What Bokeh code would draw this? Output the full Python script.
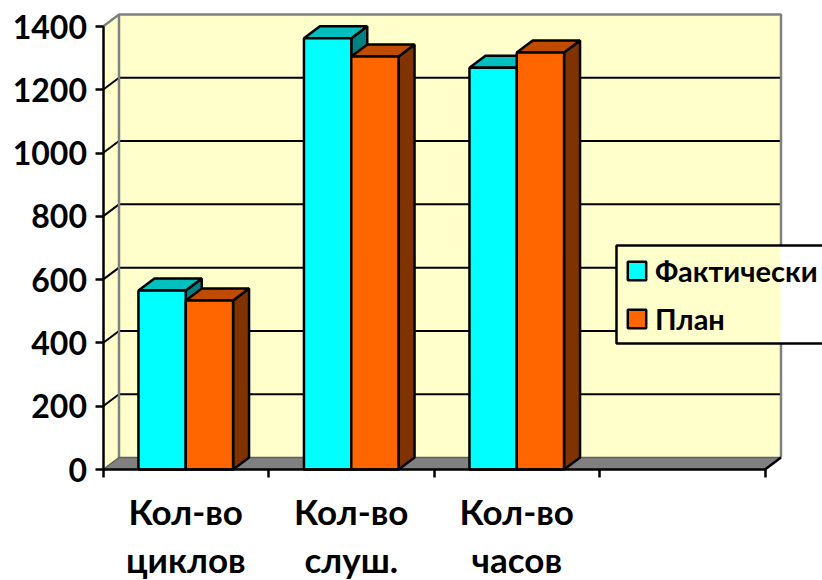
from bokeh.plotting import figure
from bokeh.embed import file_html
from bokeh.resources import INLINE
from bokeh.models import Range1d, FixedTicker, Legend, LegendItem, BoxAnnotation
from bokeh.core.properties import value

categories = ["Кол-во\nциклов", "Кол-во\nслуш.", "Кол-во\nчасов"]
positions = [0.5, 1.5, 2.5]
fact = [566, 1363, 1270]
plan = [534, 1305, 1318]
y_ticks = [0, 200, 400, 600, 800, 1000, 1200, 1400]
x_ticks = [0, 1, 2, 3, 4]
series_names = ["Фактически", "План"]

FONT = "Lato"
W, H = 822, 580
PX_X = 165.5
PX_Y = 443 / 1400
DX = 16 / PX_X
DY = 12 / PX_Y
BW = 47.3 / PX_X
YMAX = 1400
XMAX = 4

p = figure(width=W, height=H, output_backend="svg", toolbar_location=None,
           x_range=Range1d(-102.5 / PX_X, (W - 102.5) / PX_X),
           y_range=Range1d((469 - H) / PX_Y, 469 / PX_Y),
           min_border=0, outline_line_color=None)
p.grid.visible = False

# walls
p.patch([0, DX, DX, 0], [0, DY, YMAX + DY, YMAX], fill_color="#FFFFCC", line_color=None)
p.quad(left=DX, right=XMAX + DX, bottom=DY, top=YMAX + DY, fill_color="#FFFFCC", line_color=None)
# floor
p.patch([0, XMAX, XMAX + DX, DX], [0, 0, DY, DY], fill_color="#808080", line_color=None)
# grid
for t in y_ticks[1:-1]:
    p.line([0, DX, XMAX + DX], [t, t + DY, t + DY], line_color="black", line_width=2)
# wall edges
p.line([0, DX, XMAX + DX, XMAX + DX], [YMAX, YMAX + DY, YMAX + DY, DY], line_color="#808080", line_width=2.5)
p.line([DX, DX], [DY, YMAX + DY], line_color="#808080", line_width=2.5)
p.line([0, DX, XMAX + DX], [0, DY, DY], line_color="#606060", line_width=1.5)
p.line([XMAX, XMAX + DX], [0, DY], line_color="black", line_width=2.5)


def bars(vals, shift, front, top, side):
    left = [c + shift for c in positions]
    right = [l + BW for l in left]
    p.patches([[r, r + DX, r + DX, r] for r in right],
              [[0, DY, v + DY, v] for v in vals],
              fill_color=side, line_color="black", line_width=2.5)
    p.patches([[l, l + DX, r + DX, r] for l, r in zip(left, right)],
              [[v, v + DY, v + DY, v] for v in vals],
              fill_color=top, line_color="black", line_width=2.5)
    return p.quad(left=left, right=right, bottom=0, top=vals,
                  fill_color=front, line_color="black", line_width=2.5)


r1 = bars(fact, -BW, "#00FFFF", "#00BFBF", "#008080")
r2 = bars(plan, 0, "#FF6600", "#BF4C00", "#803300")

# axes
ax = p.yaxis[0]
ax.fixed_location = 0
ax.ticker = FixedTicker(ticks=y_ticks)
ax.bounds = (0, YMAX)
ax.axis_line_color = "black"
ax.axis_line_width = 2.5
ax.major_tick_line_width = 2.5
ax.major_tick_in = 0
ax.major_tick_out = 8
ax.minor_tick_line_color = None
ax.major_label_standoff = 8
ax.major_label_text_font = FONT
ax.major_label_text_font_style = "bold"
ax.major_label_text_font_size = "32px"
ax.major_label_text_color = "black"

bx = p.xaxis[0]
bx.fixed_location = 0
bx.ticker = FixedTicker(ticks=x_ticks)
bx.bounds = (0, XMAX)
bx.axis_line_color = "black"
bx.axis_line_width = 2.5
bx.major_tick_line_width = 2.5
bx.major_tick_in = 0
bx.major_tick_out = 8
bx.minor_tick_line_color = None
bx.major_label_overrides = {t: "" for t in x_ticks}

# category labels
for off, idx in ((41, 0), (89, 1)):
    p.text(x=positions, y=[0, 0, 0], text=[c.split("\n")[idx] for c in categories],
           text_font=value(FONT), text_font_style="bold", text_font_size="35px",
           text_align="center", text_baseline="alphabetic", y_offset=off, text_color="black")

# legend panel (screen y counts up from the bottom of the figure)
box = dict(top=H - 245, bottom=H - 343, left=616, top_units="screen", bottom_units="screen",
           left_units="screen", right_units="screen")
p.add_layout(BoxAnnotation(right=W + 20, fill_color="white", fill_alpha=1, line_color=None, **box))
p.add_layout(BoxAnnotation(right=780, fill_color="#FFFFCC", fill_alpha=1, line_color=None, **box))
p.add_layout(BoxAnnotation(right=W + 20, fill_alpha=0, line_color="black", line_width=2.5, line_alpha=1, **box))
leg = Legend(items=[LegendItem(label=series_names[0], renderers=[r1]),
                    LegendItem(label=series_names[1], renderers=[r2])],
             location=(625, 244), orientation="vertical",
             background_fill_alpha=0, border_line_color=None,
             label_text_font=FONT, label_text_font_style="bold", label_text_font_size="29px",
             label_text_color="black", glyph_width=23, glyph_height=23, spacing=13,
             padding=8, margin=0, label_standoff=7)
p.add_layout(leg)

open("out.html", "w").write(file_html(p, INLINE))
